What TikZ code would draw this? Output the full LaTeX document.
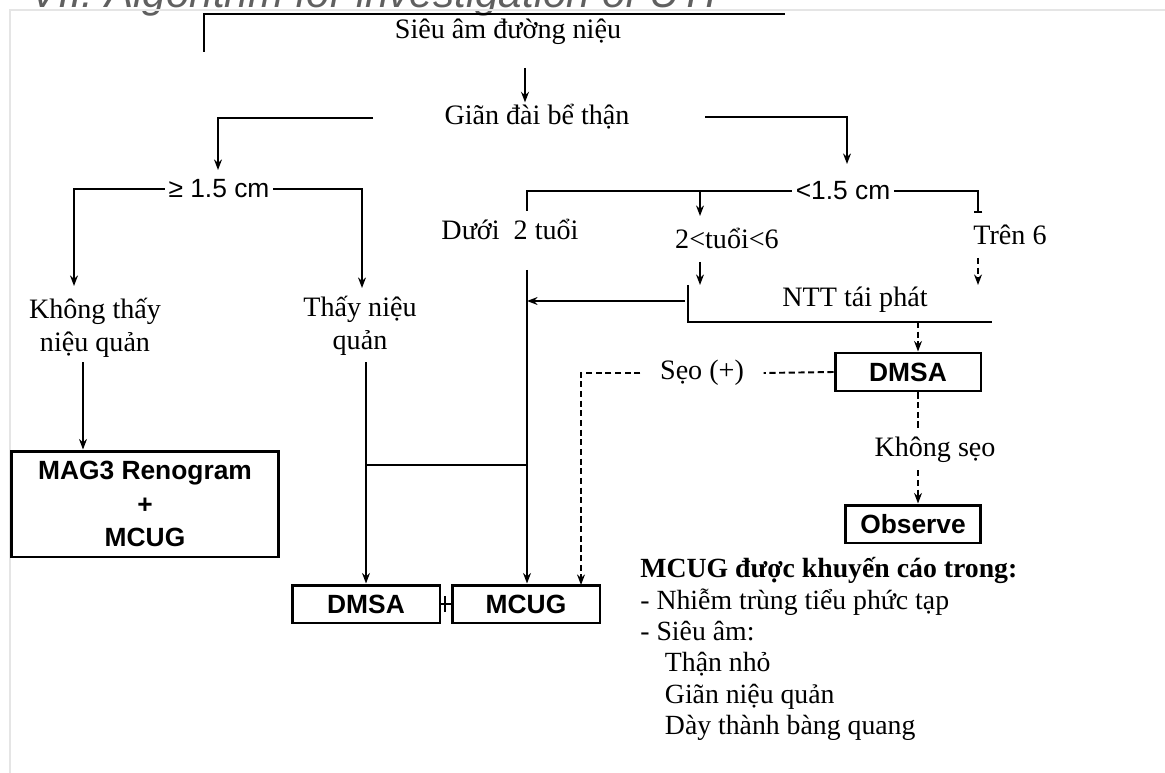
\documentclass[tikz,border=0pt]{standalone}
\usepackage{fontspec}
\setmainfont{Liberation Serif}
\setsansfont{Liberation Sans}
\usetikzlibrary{arrows.meta}

\begin{document}
\begin{tikzpicture}[
  x=0.02cm, y=-0.02cm,
  txt/.style={font=\fontsize{16}{18.7}\selectfont, inner sep=1pt, align=center},
  cut/.style={font=\sffamily\fontsize{15}{18}\selectfont, inner sep=2pt},
  box/.style={draw, line width=1.7pt, inner sep=0pt,
              font=\sffamily\bfseries\fontsize{15}{18}\selectfont},
  link/.style={line width=1.1pt},
  dlink/.style={link, dash pattern=on 3.5pt off 2pt},
  arr/.style={link, -{Stealth[length=6pt,width=4.5pt]}},
  darr/.style={dlink, -{Stealth[length=6pt,width=4.5pt]}}
]
  \useasboundingbox (0,0) rectangle (1165,773);

  % page frame and cut-off heading
  \begin{scope}
    \clip (0,0) rectangle (1165,773);
    \node[anchor=base west, inner sep=0pt, text=gray!75!black,
          font=\sffamily\itshape\fontsize{24}{28}\selectfont] (title) at (30,8)
      {VII. Algorithm for investigation of UTI};
  \end{scope}
  \draw[gray!20, line width=1pt] (10,773) |- (1165,10);

  % Labels
  \node[txt] (us) at (508,32) {Siêu âm đường niệu};
  \node[txt] (gd) at (537,117) {Giãn đài bể thận};
  \node[cut] (ge) at (219,189) {≥ 1.5 cm};
  \node[cut] (lt) at (843,191) {<1.5 cm};
  \node[txt] (kt) at (95,328) {Không thấy\\niệu quản};
  \node[txt] (tn) at (360,326) {Thấy niệu\\quản};
  \node[txt] (d2) at (510,229) {Dưới\ \ 2 tuổi};
  \node[txt] (a26) at (727,238) {2<tuổi<6};
  \node[txt] (t6) at (1010,235) {Trên 6};
  \node[txt] (ntt) at (855,300) {NTT tái phát};
  \node[txt, inner xsep=11pt] (seo) at (702,373) {Sẹo (+)};
  \node[txt, inner ysep=4pt] (ks) at (935,450) {Không sẹo};

  % Boxes
  \node[box, minimum width=5.36cm, minimum height=2.12cm, align=center] (mag) at (145,504)
    {MAG3 Renogram\\[1pt]+\\[1pt]MCUG};
  \node[box, minimum width=2.96cm, minimum height=0.76cm] (dmsaL) at (366,604) {DMSA};
  \node[box, minimum width=2.96cm, minimum height=0.76cm] (mcug) at (526,604) {MCUG};
  \node[box, minimum width=2.92cm, minimum height=0.76cm] (dmsaR) at (908,372) {DMSA};
  \node[box, minimum width=2.7cm, minimum height=0.76cm] (obs) at (913,524) {Observe};

  % Note
  \node[anchor=north west, align=left, inner sep=0pt,
        font=\fontsize{15.8}{17.9}\selectfont] (note) at (640,557)
    {\textbf{MCUG được khuyến cáo trong:}\\
     - Nhiễm trùng tiểu phức tạp\\
     - Siêu âm:\\
     \hspace*{14pt}Thận nhỏ\\
     \hspace*{14pt}Giãn niệu quản\\
     \hspace*{14pt}Dày thành bàng quang};

  % Free ends of the connectors
  \coordinate (usL) at (204,52);
  \coordinate (usR) at (785,14);
  \coordinate (a1) at (525,68);
  \coordinate (gdL) at (373,118);
  \coordinate (gdR) at (705,117);
  \coordinate (geL) at (218,170);
  \coordinate (ltT) at (847,164);
  \coordinate (ktT) at (74,286);
  \coordinate (tnT) at (362,288);
  \coordinate (ktB) at (83,362);
  \coordinate (tnB) at (366,362);
  \coordinate (d2T) at (527,211);
  \coordinate (d2B) at (527,270);
  \coordinate (join) at (527,465);
  \coordinate (ltM) at (700,191);
  \coordinate (a26T) at (700,216);
  \coordinate (t6T) at (978,213);
  \coordinate (a26B) at (700,262);
  \coordinate (t6B) at (978,258);
  \coordinate (nttA) at (688,285);
  \coordinate (nttB) at (992,322);
  \coordinate (nttW) at (685,301);
  \coordinate (nttD) at (918,322);
  \coordinate (mcugT) at (581,585);
  \coordinate (plusT) at (445,596);
  \coordinate (plusB) at (445,612);

  % Top part
  \draw[link] (usL) |- (usR);
  \draw[arr] (a1) -- (a1 |- gd.north);
  \draw[arr] (gdL) -| (geL);
  \draw[arr] (gdR) -| (ltT);

  % >= 1.5 cm branch
  \draw[arr] (ge.west) -| (ktT);
  \draw[arr] (ge.east) -| (tnT);
  \draw[arr] (ktB) -- (ktB |- mag.north);
  \draw[arr] (tnB) -- (tnB |- dmsaL.north);
  \draw[link] (join -| tnB) -- (join);
  \draw[link] (dmsaL.east) -- (mcug.west);
  \draw[link] (plusT) -- (plusB);

  % < 1.5 cm branch
  \draw[link] (lt.west) -| (d2T);
  \draw[link, -{Bar[width=5pt]}] (lt.east) -| (t6T);
  \draw[arr] (ltM) -- (a26T);
  \draw[arr] (d2B) -- (d2B |- mcug.north);
  \draw[arr] (a26B) -- (a26B |- nttA);
  \draw[darr] (t6B) -- (t6B |- nttA);
  \draw[link] (nttA) |- (nttB);
  \draw[arr] (nttW) -- (nttW -| d2B);
  \draw[darr] (nttD) -- (nttD |- dmsaR.north);
  \draw[dlink] (dmsaR.west) -- (seo.east);
  \draw[darr] (seo.west) -| (mcugT);
  \draw[dlink] (dmsaR.south -| nttD) -- (ks.north -| nttD);
  \draw[darr] (ks.south -| nttD) -- (nttD |- obs.north);
\end{tikzpicture}
\end{document}
